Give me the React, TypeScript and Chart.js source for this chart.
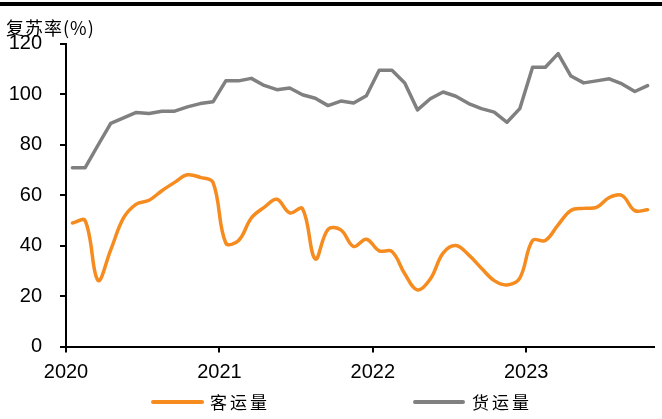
import React, { useEffect, useRef } from "react";
import { Chart, registerables } from "chart.js";

Chart.register(...registerables);

const yearLabels = ["2020", "2021", "2022", "2023"];
const seriesNames = ["客运量", "货运量"];
// monthly values Jan 2020 - Oct 2023
const passenger = [
  48.9, 49.8, 26.2, 38.3, 50.9, 56.4, 57.9, 61.7, 65.0, 68.0, 67.0, 65.0,
  41.0, 42.0, 50.9, 55.1, 58.3, 52.9, 54.6, 34.7, 46.4, 46.2, 39.6, 42.5,
  37.9, 37.6, 28.8, 22.4, 26.7, 37.0, 40.0, 36.3, 31.0, 26.1, 24.4, 27.1,
  42.0, 42.0, 48.2, 53.9, 54.7, 55.1, 59.0, 59.8, 53.8, 54.2,
];
const freight = [
  70.8, 70.8, 79.7, 88.4, 90.5, 92.7, 92.3, 93.2, 93.2, 94.9, 96.2, 96.9,
  105.2, 105.2, 106.2, 103.4, 101.7, 102.4, 99.7, 98.3, 95.4, 97.2, 96.4, 99.3,
  109.4, 109.4, 104.4, 93.7, 98.1, 100.8, 99.1, 96.2, 94.2, 92.8, 88.8, 94.2,
  110.6, 110.6, 116.0, 107.1, 104.4, 105.2, 106.0, 104.0, 101.0, 103.3,
];

const ORANGE = "#F68B1F";
const GRAY = "#808080";

export default function App() {
  const ref = useRef<HTMLCanvasElement>(null);
  useEffect(() => {
    document.body.style.margin = "0";
    const ctx = ref.current!;
    const toPts = (arr: number[]) => arr.map((v, i) => ({ x: i + 0.5, y: v }));
    const chart = new Chart(ctx, {
      type: "line",
      data: {
        datasets: [
          {
            label: seriesNames[0],
            data: toPts(passenger),
            borderColor: ORANGE,
            backgroundColor: ORANGE,
            borderWidth: 3.5,
            pointRadius: 0,
            tension: 0.38,
            cubicInterpolationMode: "default",
            borderCapStyle: "round",
            borderJoinStyle: "round",
          },
          {
            label: seriesNames[1],
            data: toPts(freight),
            borderColor: GRAY,
            backgroundColor: GRAY,
            borderWidth: 3.5,
            pointRadius: 0,
            tension: 0,
            borderCapStyle: "round",
            borderJoinStyle: "round",
          },
        ],
      },
      options: {
        animation: false,
        responsive: false,
        maintainAspectRatio: false,
        layout: { padding: { top: 43.5, right: 8, left: 0, bottom: 32.5 } },
        plugins: {
          legend: { display: false },
          tooltip: { enabled: false },
          title: { display: false },
        },
        scales: {
          x: {
            type: "linear",
            min: 0,
            max: 46,
            afterFit: (s: any) => {
              s.height = 40;
            },
            afterBuildTicks: (s: any) => {
              s.ticks = [0, 12, 24, 36].map((v) => ({ value: v }));
            },
            ticks: {
              callback: (v: any) => yearLabels[Math.round(Number(v) / 12)] ?? "",
              color: "#000",
              font: { family: "Liberation Sans, Arial, sans-serif", size: 20 },
              padding: 8,
              maxRotation: 0,
              autoSkip: false,
            },
            grid: {
              drawOnChartArea: false,
              drawTicks: true,
              tickLength: 6,
              color: "#000",
              lineWidth: 2,
            },
            border: { color: "#000", width: 2 },
          },
          y: {
            min: 0,
            max: 120,
            afterFit: (s: any) => {
              s.width = 66;
            },
            ticks: {
              stepSize: 20,
              color: "#000",
              font: { family: "Liberation Sans, Arial, sans-serif", size: 20 },
              padding: 18,
            },
            grid: {
              drawOnChartArea: false,
              drawTicks: true,
              tickLength: 6,
              color: "#000",
              lineWidth: 2,
            },
            border: { color: "#000", width: 2 },
          },
        },
      },
    } as any);
    return () => chart.destroy();
  }, []);

  const legendText: React.CSSProperties = {
    position: "absolute",
    top: 392,
    fontFamily: "'Noto Sans CJK SC', sans-serif",
    fontSize: 17,
    letterSpacing: 3,
    lineHeight: "20px",
    color: "#000",
  };
  return (
    <div style={{ position: "relative", width: 662, height: 419, background: "#fff", overflow: "hidden" }}>
      <div style={{ position: "absolute", left: 0, top: 2, width: 662, height: 4, background: "#000" }} />
      <canvas ref={ref} width={662} height={419} style={{ position: "absolute", left: 0, top: 0 }} />
      <div
        style={{
          position: "absolute",
          left: 6,
          top: 15,
          fontFamily: "'Noto Sans CJK SC', sans-serif",
          fontSize: 18,
          lineHeight: "24px",
          letterSpacing: 1,
          color: "#000",
          whiteSpace: "nowrap",
        }}
      >
        复苏率(%)
      </div>
      <div style={{ position: "absolute", left: 151, top: 400, width: 53, height: 4, borderRadius: 2, background: ORANGE }} />
      <div style={{ ...legendText, left: 210 }}>{seriesNames[0]}</div>
      <div style={{ position: "absolute", left: 413, top: 400, width: 52, height: 4, borderRadius: 2, background: GRAY }} />
      <div style={{ ...legendText, left: 472 }}>{seriesNames[1]}</div>
    </div>
  );
}
